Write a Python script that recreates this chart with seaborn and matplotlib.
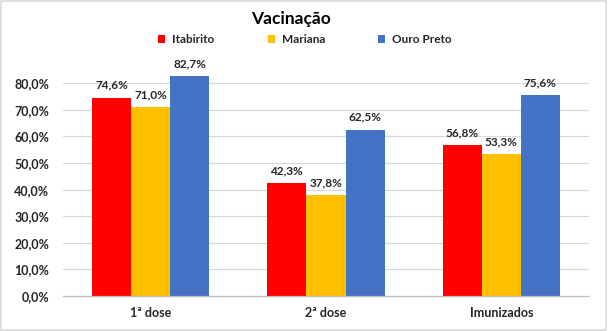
import matplotlib
matplotlib.use("Agg")
import matplotlib.pyplot as plt
import matplotlib.patches as mpatches
import seaborn as sns
import pandas as pd
from matplotlib.ticker import FuncFormatter, FixedLocator

categories = ["1ª dose", "2ª dose", "Imunizados"]
cities = ["Itabirito", "Mariana", "Ouro Preto"]
itabirito = [0.746, 0.423, 0.568]
mariana = [0.710, 0.378, 0.533]
ouro_preto = [0.827, 0.625, 0.756]
colors = ["#FF0000", "#FFC000", "#4472C4"]

rows = []
for city, vals in zip(cities, [itabirito, mariana, ouro_preto]):
    for cat, v in zip(categories, vals):
        rows.append({"categoria": cat, "cidade": city, "valor": v})
df = pd.DataFrame(rows)

sns.set_theme(style="white")
plt.rcParams["font.family"] = ["Lato", "DejaVu Sans"]

fig = plt.figure(figsize=(6.08, 3.31), dpi=100)
ax = fig.add_axes([63 / 608, 1 - 296 / 331, (589 - 63) / 608, 0.9 * 266 / 331])

sns.barplot(data=df, x="categoria", y="valor", hue="cidade", order=categories,
            hue_order=cities, palette=colors, width=0.67, saturation=1,
            edgecolor="none", ax=ax, legend=True)

ax.set_ylim(0, 0.9)
ax.set_xlim(-0.5, 2.5)
ax.yaxis.set_major_locator(FixedLocator([i / 10 for i in range(9)]))
ax.yaxis.set_major_formatter(FuncFormatter(lambda v, p: f"{v * 100:.1f}%".replace(".", ",")))
ax.grid(axis="y", color="#D9D9D9", linewidth=0.9)
ax.set_axisbelow(True)
for s in ["top", "right", "left"]:
    ax.spines[s].set_visible(False)
ax.spines["bottom"].set_color("#BFBFBF")
ax.spines["bottom"].set_linewidth(0.9)
ax.set_xlabel("")
ax.set_ylabel("")
ax.tick_params(axis="y", length=0, labelsize=9, pad=10, labelcolor="#262626")
ax.tick_params(axis="x", which="major", length=0, labelsize=9, pad=8, labelcolor="#262626")
ax.xaxis.set_minor_locator(FixedLocator([-0.5, 0.5, 1.5, 2.5]))
ax.tick_params(axis="x", which="minor", length=5, color="#BFBFBF", width=0.9)
for lbl in ax.get_yticklabels() + ax.get_xticklabels():
    lbl.set_fontweight("bold")

for cont in ax.containers:
    ax.bar_label(cont, labels=[f"{v * 100:.1f}%".replace(".", ",") for v in cont.datavalues],
                 padding=5, fontsize=8.5, fontweight="bold", color="#262626")

leg = ax.legend(loc="center", bbox_to_anchor=(0.46, 1.07), ncol=3, frameon=False,
                fontsize=8.5, handlelength=0.6, handleheight=0.6, columnspacing=4.5,
                handletextpad=0.6)
for t in leg.get_texts():
    t.set_fontweight("bold")
    t.set_color("#262626")

fig.text(291 / 608, 1 - 19 / 331, "Vacinação", ha="center", va="center",
         fontsize=12.5, fontweight="bold", color="#000000")

fig.patches.append(mpatches.Rectangle((0.002, 0.003), 0.995, 0.993, transform=fig.transFigure,
                                      fill=False, edgecolor="#D9D9D9", linewidth=1.2))

fig.savefig("out.png", dpi=100, facecolor="white")
